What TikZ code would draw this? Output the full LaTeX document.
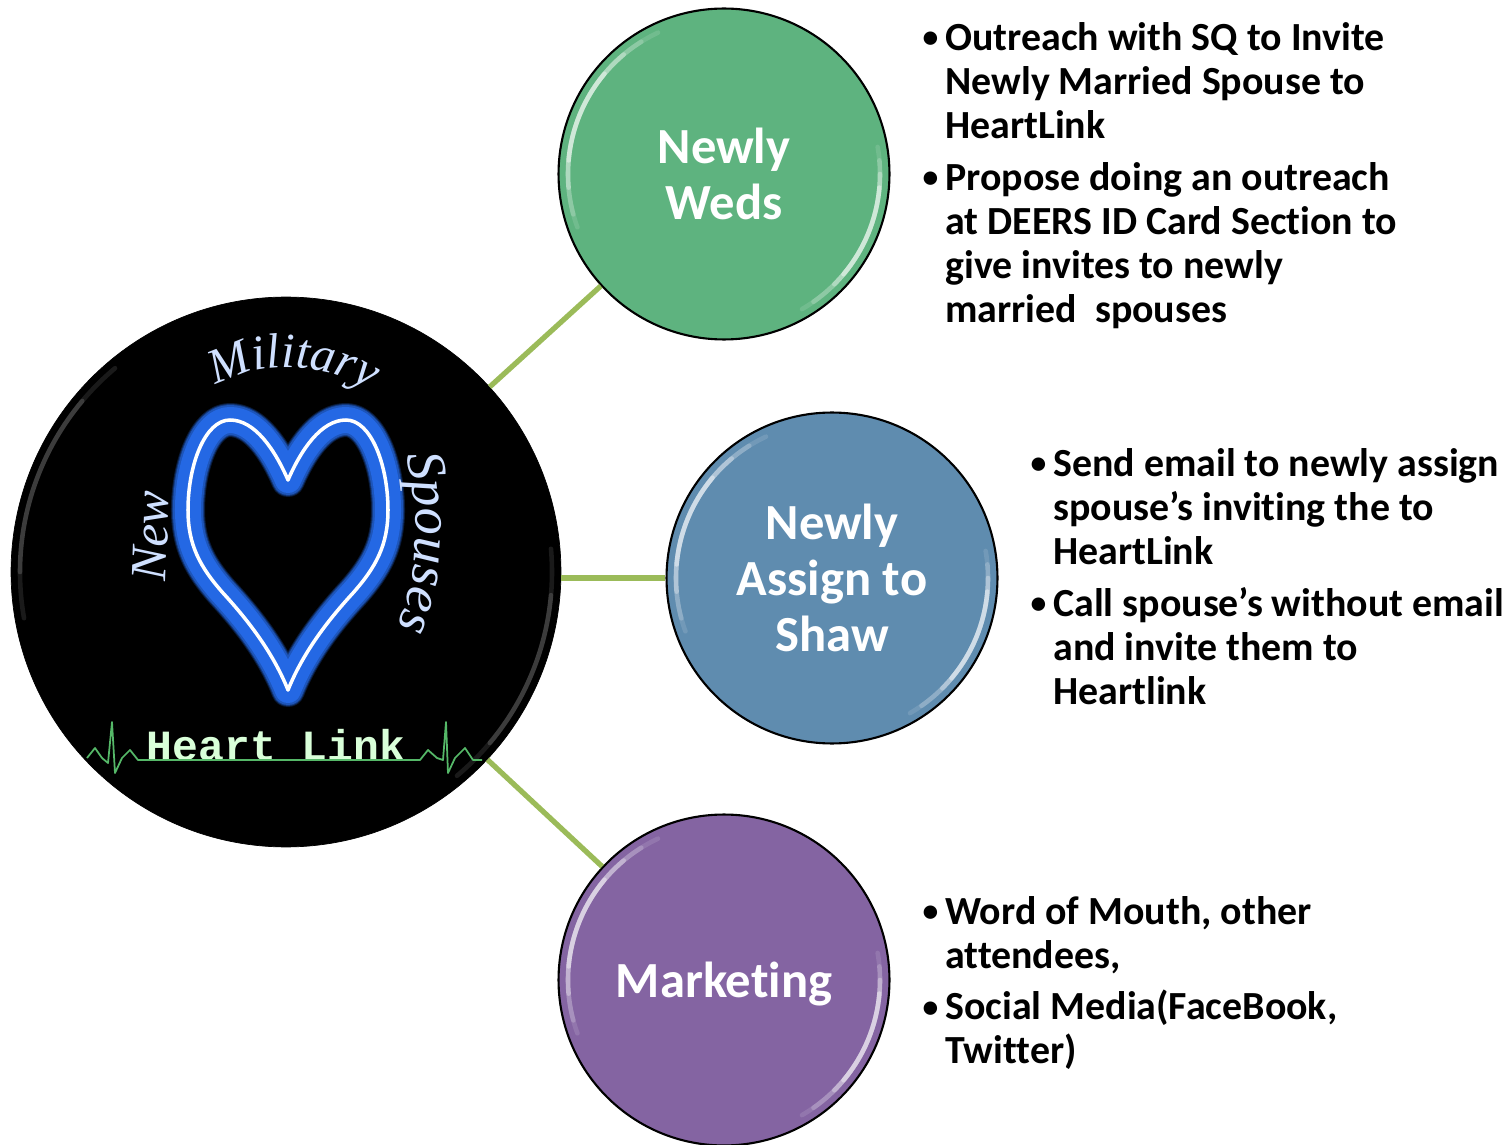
\documentclass[tikz,border=0pt]{standalone}
\usepackage{fontspec}
\setmainfont{Carlito}[Ligatures=NoCommon]
\newfontfamily\logoserif{Liberation Serif}
\newfontfamily\logomono{Liberation Mono}
\usetikzlibrary{decorations.text}
\definecolor{wedgreen}{HTML}{5EB37F}
\definecolor{shawblue}{HTML}{5F8CAF}
\definecolor{markpurple}{HTML}{8464A2}
\definecolor{linkgreen}{HTML}{9BBB59}
\definecolor{neonblue}{HTML}{2468E4}
\definecolor{neonpale}{HTML}{CFE0FF}
\definecolor{ecggreen}{HTML}{55B868}
\tikzset{
	hub/.style = {draw = black,
				  shape = circle,
				  line width = 1.2pt,
				  inner sep = 0pt,
				  minimum size = 6.62cm,
				  align = center,
				  text = white,
				  font = \bfseries\fontsize{28.8}{31.9}\selectfont},
	item/.style = {anchor = north west,
				   inner sep = 0pt,
				   align = left,
				   font = \bfseries\fontsize{22.7}{25}\selectfont},
	spoke/.style = {draw = linkgreen,
					line width = 3pt},
	logotext/.style = {text = neonpale,
					   inner sep = 0pt,
					   font = \logoserif\itshape\fontsize{29}{29}\selectfont}
}
\newcommand{\bul}{\leavevmode\llap{\raisebox{1.5pt}{\fontsize{18}{18}\selectfont\textbullet}\hspace{4pt}}}
\newcommand{\gloss}[3]{
	\foreach \from/\to/\op in {#3} {
		\draw[white, line width = 2.6pt, opacity = \op, line cap = round]
			(#1) ++(\from:#2) arc[start angle = \from, end angle = \to, radius = #2];
	}
}
\begin{document}
\begin{tikzpicture}[x = 0.02cm, y = 0.02cm]
	\useasboundingbox (0, 0) rectangle (1512, -1145);

	\draw (286, -572) node[draw = black,
						   shape = circle,
						   fill = black,
						   inner sep = 0pt,
						   minimum size = 11cm
					](main){};
	\draw (724, -174) node[hub, fill = wedgreen](wed){Newly\\Weds};
	\draw (832, -578) node[hub, fill = shawblue](shaw){Newly\\Assign to\\Shaw};
	\draw (724, -980) node[hub, fill = markpurple, text depth = 0pt](mark){Marketing};

	\draw[spoke] (main) -- (wed);
	\draw[spoke] (main.east |- shaw.west) -- (shaw.west);
	\draw[spoke] (main) -- (mark);

	\gloss{wed.center}{156}{115/200/.12, 122/195/.2, 130/185/.3, 140/175/.4}
	\gloss{wed.center}{156}{300/370/.12, 305/365/.2, 315/360/.3, 320/355/.4}
	\gloss{shaw.center}{156}{115/200/.12, 122/195/.2, 130/185/.3, 140/175/.4}
	\gloss{shaw.center}{156}{300/370/.12, 305/365/.2, 315/360/.3, 320/355/.4}
	\gloss{mark.center}{156}{115/200/.12, 122/195/.2, 130/185/.3, 140/175/.4}
	\gloss{mark.center}{156}{300/370/.12, 305/365/.2, 315/360/.3, 320/355/.4}
	\gloss{main.center}{266}{130/190/.1, 140/180/.15}
	\gloss{main.center}{266}{310/365/.1, 320/355/.15}

	\foreach \wide/\op in {34/.25, 32/.4, 30/.6, 26/1} {
		\draw[neonblue, opacity = \op, line width = \wide*0.57pt, line join = round]
			(288, -480) .. controls (275, -450) and (255, -420) .. (230, -420)
			.. controls (205, -420) and (188, -465) .. (188, -510)
			.. controls (188, -545) and (200, -567) .. (223, -593)
			.. controls (245, -617) and (272, -650) .. (288, -690)
			.. controls (304, -650) and (331, -617) .. (353, -593)
			.. controls (376, -567) and (388, -545) .. (388, -510)
			.. controls (388, -465) and (371, -420) .. (346, -420)
			.. controls (321, -420) and (301, -450) .. (288, -480) -- cycle;
	}
	\draw[white, line width = 2pt, line join = round]
		(288, -480) .. controls (275, -450) and (255, -420) .. (230, -420)
		.. controls (205, -420) and (188, -465) .. (188, -510)
		.. controls (188, -545) and (200, -567) .. (223, -593)
		.. controls (245, -617) and (272, -650) .. (288, -690)
		.. controls (304, -650) and (331, -617) .. (353, -593)
		.. controls (376, -567) and (388, -545) .. (388, -510)
		.. controls (388, -465) and (371, -420) .. (346, -420)
		.. controls (321, -420) and (301, -450) .. (288, -480) -- cycle;

	\path[decorate, decoration = {text along path,
								  text align = center,
								  text color = neonpale,
								  text = {|\logoserif\itshape\fontsize{28}{28}\selectfont|Military}}]
		(208, -392) .. controls (250, -358) and (330, -358) .. (378, -397);
	\path[decorate, decoration = {text along path,
								  text align = center,
								  text color = neonpale,
								  text = {|\logoserif\itshape\fontsize{31}{31}\selectfont|Spouses}}]
		(404, -446) .. controls (421, -510) and (421, -580) .. (393, -636);
	\draw (151, -536) node[logotext, rotate = 88](new){New};
	\draw (276, -745) node[text = white!85!green,
						   inner sep = 0pt,
						   font = \logomono\bfseries\fontsize{24.5}{24.5}\selectfont
					](link){Heart Link};
	\draw[ecggreen, line width = 1pt, line join = round]
		(87, -758) -- (95, -748) -- (102, -758) -- (108, -763) -- (112, -722) -- (115, -773)
		-- (122, -758) -- (130, -750) -- (138, -760) -- (420, -760) -- (428, -750) -- (437, -758)
		-- (443, -760) -- (446, -722) -- (448, -773) -- (455, -758) -- (465, -748)
		-- (473, -760) -- (482, -760);

	\draw (945, -22) node[item](outreach){\bul Outreach with SQ to Invite\\Newly Married Spouse to\\HeartLink};
	\draw (945, -162) node[item](deers){\bul Propose doing an outreach\\at DEERS ID Card Section to\\give invites to newly\\married\ \ spouses};
	\draw (1053, -448) node[item](email){\bul Send email to newly assign\\spouse’s inviting the to\\HeartLink};
	\draw (1053, -587) node[item](call){\bul Call spouse’s without email\\and invite them to\\Heartlink};
	\draw (945, -896) node[item](word){\bul Word of Mouth, other\\attendees,};
	\draw (945, -990) node[item](social){\bul Social Media(FaceBook,\\Twitter)};
\end{tikzpicture}
\end{document}
